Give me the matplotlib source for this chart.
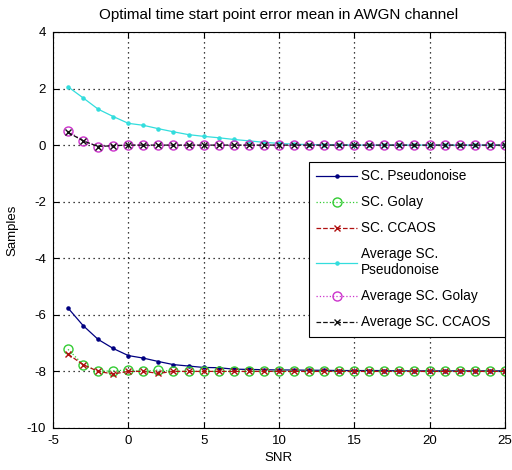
import numpy as np
import matplotlib
matplotlib.use("Agg")
import matplotlib.pyplot as plt

# SNR points
snr = list(range(-4, 26))

# values
pn = [-5.76, -6.38, -6.87, -7.19, -7.44, -7.53, -7.65, -7.76, -7.81, -7.86,
      -7.87, -7.92, -7.93, -7.94, -7.95, -7.95, -7.96, -7.96, -7.97, -7.97,
      -7.97, -7.97, -7.98, -7.98, -7.98, -7.98, -7.98, -7.98, -7.98, -7.98]
golay = [-7.22, -7.76, -8.00, -7.98, -7.95, -8.00, -7.95, -8.00, -8.00, -8.00,
         -8.00, -8.00, -8.00, -8.00, -8.00, -8.00, -8.00, -8.00, -8.00, -8.00,
         -8.00, -8.00, -8.00, -8.00, -8.00, -8.00, -8.00, -8.00, -8.00, -8.00]
ccaos = [-7.39, -7.76, -8.00, -8.09, -8.00, -8.00, -8.07, -8.00, -8.00, -8.00,
         -8.00, -8.00, -8.00, -8.00, -8.00, -8.00, -8.00, -8.00, -8.00, -8.00,
         -8.00, -8.00, -8.00, -8.00, -8.00, -8.00, -8.00, -8.00, -8.00, -8.00]
avg_pn = [2.06, 1.67, 1.27, 1.01, 0.77, 0.70, 0.58, 0.47, 0.37, 0.31,
          0.26, 0.20, 0.15, 0.10, 0.06, 0.03, 0.02, 0.01, 0.01, 0.0,
          0.0, 0.0, 0.0, 0.0, 0.0, 0.0, 0.0, 0.0, 0.0, 0.0]
avg_golay = [0.49, 0.16, -0.05, -0.02, 0.0, 0.0, 0.0, 0.0, 0.0, 0.0,
             0.0, 0.0, 0.0, 0.0, 0.0, 0.0, 0.0, 0.0, 0.0, 0.0,
             0.0, 0.0, 0.0, 0.0, 0.0, 0.0, 0.0, 0.0, 0.0, 0.0]
avg_ccaos = [0.45, 0.15, -0.05, -0.02, 0.0, 0.0, 0.0, 0.0, 0.0, 0.0,
             0.0, 0.0, 0.0, 0.0, 0.0, 0.0, 0.0, 0.0, 0.0, 0.0,
             0.0, 0.0, 0.0, 0.0, 0.0, 0.0, 0.0, 0.0, 0.0, 0.0]

plt.rcParams['font.family'] = ['Liberation Sans', 'DejaVu Sans']
plt.rcParams['font.size'] = 9.5
plt.rcParams['axes.unicode_minus'] = False

fig = plt.figure(figsize=(5.12, 4.70), dpi=100)
ax = fig.add_axes([0.1035, 0.0894, 0.8825, 0.8426])

ax.plot(snr, pn, color='#000080', linestyle='-', marker='.', markersize=4.5,
        linewidth=0.9, label='SC. Pseudonoise')
ax.plot(snr, golay, color='#33cc33', linestyle=':', marker='o', markersize=6.5,
        markerfacecolor='none', linewidth=0.9, label='SC. Golay')
ax.plot(snr, ccaos, color='#b01010', linestyle='--', marker='x', markersize=4.5,
        linewidth=0.9, label='SC. CCAOS')
ax.plot(snr, avg_pn, color='#33dddd', linestyle='-', marker='.', markersize=4.5,
        linewidth=0.9, label='Average SC.\nPseudonoise')
ax.plot(snr, avg_golay, color='#cc33cc', linestyle=':', marker='o', markersize=6.5,
        markerfacecolor='none', linewidth=0.9, label='Average SC. Golay')
ax.plot(snr, avg_ccaos, color='#111111', linestyle='--', marker='x', markersize=4.5,
        linewidth=0.9, label='Average SC. CCAOS')

ax.set_xlim(-5, 25)
ax.set_ylim(-10, 4)
ax.set_xticks(range(-5, 26, 5))
ax.set_yticks(range(-10, 5, 2))
ax.grid(True, color='black', linestyle=(0, (1, 3)), linewidth=0.9)
ax.tick_params(direction='in', length=4, top=True, right=True, pad=5)
ax.set_xlabel('SNR', labelpad=4)
ax.set_ylabel('Samples', labelpad=6)
ax.set_title('Optimal time start point error mean in AWGN channel', fontsize=11, pad=9)

leg = ax.legend(loc='upper left', bbox_to_anchor=(0.566, 0.672, 0.434, 0.0),
                mode='expand', borderaxespad=0, fancybox=False, framealpha=1,
                edgecolor='black', fontsize=9.8, handlelength=3.0,
                labelspacing=0.88, borderpad=0.55, handletextpad=0.3)
leg.get_frame().set_linewidth(0.8)

fig.savefig('out.png', dpi=100)
